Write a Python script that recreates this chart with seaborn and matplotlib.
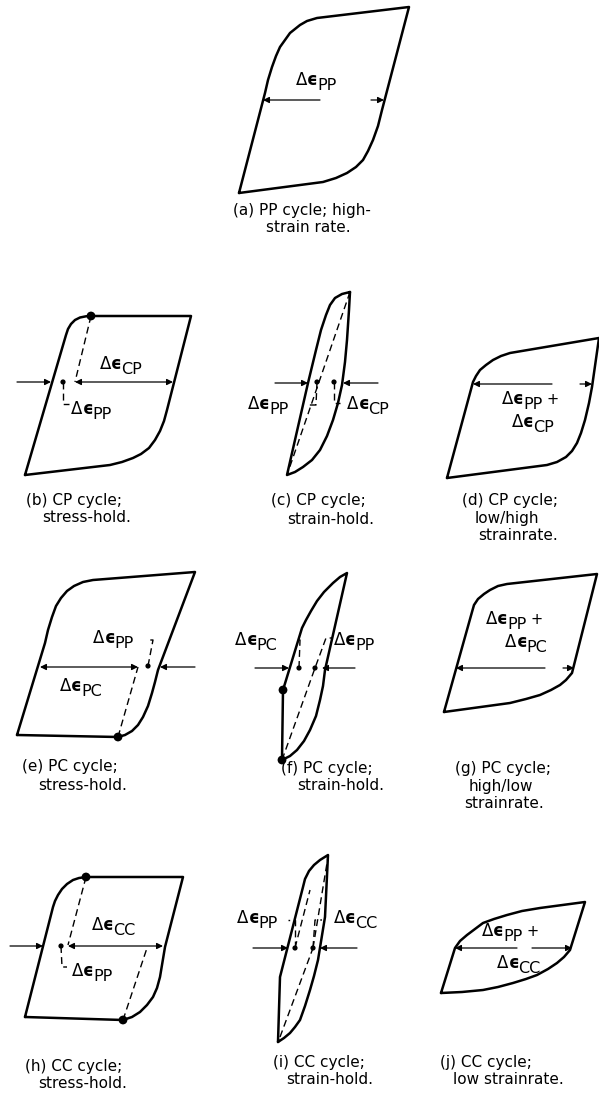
import matplotlib
matplotlib.use('Agg')
import matplotlib.pyplot as plt
import seaborn as sns

# Contornos de los ciclos de histeresis (coordenadas en pixeles de la figura)
loop_a = [(239, 193), (265, 93), (268, 80), (272, 67), (276, 56), (280, 47), (285, 40),
          (290, 33), (295, 29), (300, 25), (307, 21), (317, 18), (409, 7), (382, 110),
          (378, 126), (373, 140), (368, 151), (363, 160), (356, 167), (347, 173),
          (336, 178), (323, 182), (239, 193)]
loop_b = [(25, 475), (66, 335), (68, 329), (71, 324), (75, 320), (80, 317.5), (86, 316.3),
          (91, 316), (191, 316), (167, 410), (164, 421), (160, 431), (155, 440), (149, 448),
          (141, 454), (133, 458), (122, 462), (110, 465), (25, 475)]
loop_c = [(350, 292), (349, 310), (347, 340), (345, 362), (342, 385), (338, 403), (333, 420),
          (327, 436), (320, 450), (312, 460), (303, 467), (295, 472), (287, 475), (308, 383),
          (316, 350), (321, 330), (326, 315), (330, 305), (335, 298), (342, 294), (350, 292)]
loop_d = [(447, 478), (473, 382), (476, 376), (480, 370), (486, 365), (493, 360), (501, 356),
          (510, 353), (599, 338), (592, 387), (589, 403), (585, 420), (581, 433), (577, 443),
          (572, 451), (566, 457), (557, 462), (547, 465), (447, 478)]
loop_e = [(17, 735), (45, 643), (48, 630), (52, 617), (56, 606), (61, 598), (67, 591),
          (74, 586), (83, 582), (93, 580), (195, 572), (158, 670), (155, 682), (152, 693),
          (148, 706), (143, 717), (138, 725), (132, 731), (125, 735), (118, 737), (17, 735)]
loop_f = [(282, 760), (283, 690), (302, 628), (306, 620), (311, 611), (317, 601), (324, 592),
          (333, 583), (340, 577), (347, 573), (325, 670), (323, 686), (320, 700), (316, 716),
          (310, 730), (304, 741), (297, 750), (290, 756), (282, 760)]
loop_g = [(444, 712), (472, 612), (474, 605), (478, 599), (484, 594), (490, 590), (498, 586),
          (507, 584), (597, 574), (572, 673), (566, 680), (560, 685), (551, 690), (540, 695),
          (526, 699), (510, 703), (444, 712)]
loop_h = [(25, 1017), (53, 907), (55, 901), (58, 895), (62, 889), (67, 884), (73, 880),
          (79, 878), (86, 877), (183, 877), (165, 947), (162, 965), (160, 977), (157, 988),
          (153, 997), (147, 1005), (140, 1012), (132, 1017), (123, 1020), (25, 1017)]
loop_i = [(278, 1042), (280, 977), (303, 887), (305, 879), (309, 871), (314, 865), (320, 860),
          (328, 855), (325, 917), (318, 960), (314, 976), (310, 990), (305, 1006), (300, 1020),
          (295, 1027), (290, 1033), (284, 1038), (278, 1042)]
loop_j = [(441, 993), (455, 948), (460, 941), (467, 935), (475, 929), (483, 923), (494, 919),
          (507, 915), (522, 911), (540, 908), (585, 902), (570, 950), (564, 957), (557, 963),
          (548, 969), (537, 975), (526, 979), (513, 983), (498, 987), (483, 990), (462, 992),
          (441, 993)]
loops = [loop_a, loop_b, loop_c, loop_d, loop_e, loop_f, loop_g, loop_h, loop_i, loop_j]

# Lineas discontinuas (descarga y corchetes de etiquetas)
dashed = [
    [(91, 316), (75, 382)], [(63, 382), (63, 404), (69, 404)],
    [(350, 292), (287, 475)], [(317, 382), (316, 405), (308, 405)], [(334, 382), (334, 403), (340, 403)],
    [(118, 737), (138, 667)], [(148, 666), (153, 640), (147, 640)],
    [(282, 760), (315, 668), (326, 638), (332, 638)], [(299, 668), (300, 640), (295, 640)],
    [(86, 877), (68, 945)], [(123, 1020), (147, 948)], [(61, 946), (62, 967), (67, 967)],
    [(280, 1037), (313, 948)], [(313, 948), (328, 857)], [(295, 948), (310, 890)],
    [(295, 948), (295, 920), (288, 920)], [(313, 948), (315, 920), (322, 920)],
]

# Puntos grandes (inicio/fin de mantenimiento) y puntos pequenos
big_dots = [(91, 316), (118, 737), (282, 760), (283, 690), (86, 877), (123, 1020)]
small_dots = [(63, 382), (317, 382), (334, 382), (148, 666), (299, 668), (315, 668),
              (61, 946), (295, 948), (313, 948)]

# Flechas: (cola, punta, doble)
arrows = [
    ((320, 100), (263, 100), False), ((371, 100), (384, 100), False),
    ((17, 382), (51, 382), False), ((75, 382), (173, 382), True),
    ((275, 383), (308, 383), False), ((378, 383), (343, 383), False),
    ((552, 384), (473, 384), False), ((580, 384), (592, 384), False),
    ((40, 667), (138, 667), True), ((195, 667), (160, 667), False),
    ((255, 668), (289, 668), False), ((355, 668), (322, 668), False),
    ((545, 668), (456, 668), False), ((563, 668), (574, 668), False),
    ((10, 946), (43, 946), False), ((68, 946), (163, 946), True),
    ((253, 948), (288, 948), False), ((357, 948), (320, 948), False),
    ((517, 948), (455, 948), False), ((532, 948), (572, 948), False),
]

# Etiquetas delta-epsilon: (x, y, subindice, con '+')
deltas = [
    (296, 80, 'PP', False),
    (71, 409, 'PP', False), (100, 364, 'CP', False),
    (248, 404, 'PP', False), (347, 404, 'CP', False),
    (502, 399, 'PP', True), (512, 422, 'CP', False),
    (93, 638, 'PP', False), (60, 686, 'PC', False),
    (235, 640, 'PC', False), (334, 640, 'PP', False),
    (486, 619, 'PP', True), (505, 642, 'PC', False),
    (72, 971, 'PP', False), (92, 925, 'CC', False),
    (237, 918, 'PP', False), (334, 918, 'CC', False),
    (482, 931, 'PP', True), (497, 963, 'CC', False),
]

# Leyendas de cada ciclo
captions = [
    (233, 210, '(a) PP cycle; high-'), (266, 227, 'strain rate.'),
    (26, 500, '(b) CP cycle;'), (42, 518, 'stress-hold.'),
    (271, 501, '(c) CP cycle;'), (287, 519, 'strain-hold.'),
    (462, 500, '(d) CP cycle;'), (475, 518, 'low/high'), (478, 536, 'strainrate.'),
    (22, 767, '(e) PC cycle;'), (38, 785, 'stress-hold.'),
    (281, 768, '(f) PC cycle;'), (297, 786, 'strain-hold.'),
    (455, 768, '(g) PC cycle;'), (469, 786, 'high/low'), (464, 804, 'strainrate.'),
    (25, 1066, '(h) CC cycle;'), (38, 1084, 'stress-hold.'),
    (273, 1062, '(i) CC cycle;'), (286, 1080, 'strain-hold.'),
    (440, 1062, '(j) CC cycle;'), (453, 1079, 'low strainrate.'),
]

sns.set_style('white')
plt.rcParams['font.family'] = ['DejaVu Sans']
plt.rcParams['text.color'] = 'black'

fig = plt.figure(figsize=(5.99, 10.98), dpi=100)
ax = fig.add_axes([0, 0, 1, 1])

for pts in loops:
    xs, ys = zip(*pts)
    sns.lineplot(x=list(xs), y=list(ys), sort=False, estimator=None, color='black',
                 lw=1.8, ax=ax)

for pts in dashed:
    xs, ys = zip(*pts)
    sns.lineplot(x=list(xs), y=list(ys), sort=False, estimator=None, color='black',
                 lw=1.0, linestyle=(0, (5, 3)), ax=ax)

bx, by = zip(*big_dots)
sns.scatterplot(x=list(bx), y=list(by), s=40, color='black', edgecolor='none', ax=ax, zorder=5)
sx, sy = zip(*small_dots)
sns.scatterplot(x=list(sx), y=list(sy), s=14, color='black', edgecolor='none', ax=ax, zorder=5)

for tail, tip, both in arrows:
    style = '<|-|>' if both else '-|>'
    ax.annotate('', xy=tip, xytext=tail,
                arrowprops=dict(arrowstyle=style, color='black', lw=0.9,
                                mutation_scale=9, shrinkA=0, shrinkB=0))

for x, y, sub, plus in deltas:
    t1 = ax.text(x, y, 'Δ', fontsize=12, va='center', ha='left')
    t2 = ax.annotate('ϵ', xy=(1, 0.5), xycoords=t1, va='center', ha='left',
                     fontsize=12, fontweight='bold')
    t3 = ax.annotate(sub, xy=(1, 0.5), xycoords=t2, xytext=(-0.5, -4),
                     textcoords='offset points', va='center', ha='left', fontsize=11.5)
    if plus:
        ax.annotate('+', xy=(1, 0.5), xycoords=t3, xytext=(3, 4),
                    textcoords='offset points', va='center', ha='left', fontsize=10.5)

for x, y, s in captions:
    ax.text(x, y, s, fontsize=11, va='center', ha='left')

ax.set_xlim(0, 599)
ax.set_ylim(1098, 0)
ax.axis('off')

fig.savefig('out.png', dpi=100)
